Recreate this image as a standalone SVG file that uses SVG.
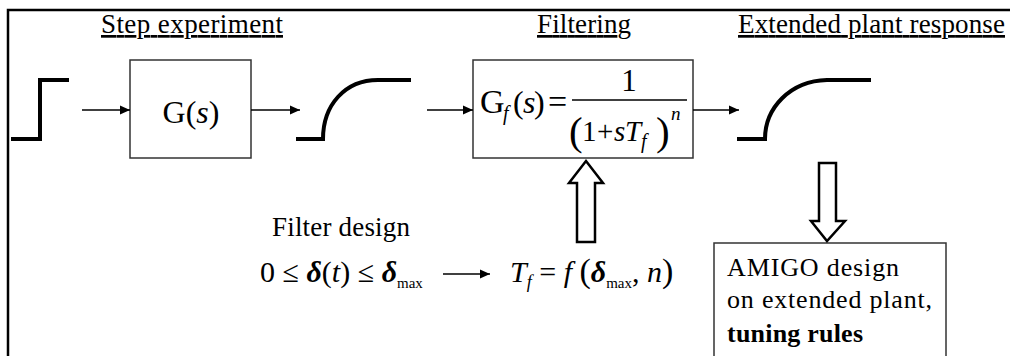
<svg xmlns="http://www.w3.org/2000/svg" width="1010" height="356" viewBox="0 0 1010 356" font-family="Liberation Serif, serif">
<style>
text{fill:#000}
.h{text-decoration:underline}
.i{font-style:italic}
.b{font-weight:bold}
.sig{fill:none;stroke:#000;stroke-width:4}
.box{fill:#fff;stroke:#333;stroke-width:1.5}
.ln{stroke:#000;stroke-width:1.5;fill:none}
.hol{fill:#fff;stroke:#000;stroke-width:2.5;stroke-linejoin:miter}
</style>
<defs>
<marker id="ah" markerWidth="10" markerHeight="10" refX="10" refY="5" orient="auto" markerUnits="userSpaceOnUse">
<path d="M0,0.5 L10,5 L0,9.5 Z" fill="#000"/>
</marker>
</defs>
<rect width="1010" height="356" fill="#fff"/>
<g id="frame">
<path d="M8,356 V10 H1010" fill="none" stroke="#000" stroke-width="2.5"/>
</g>
<g id="headers">
<text class="h" font-family="Liberation Serif, serif" font-size="27" x="101" y="33" textLength="182">Step experiment</text>
<text class="h" font-family="Liberation Serif, serif" font-size="27" x="537" y="33" textLength="94">Filtering</text>
<text class="h" font-family="Liberation Serif, serif" font-size="27" x="738" y="33" textLength="267">Extended plant response</text>
</g>
<g id="step">
<path class="sig" d="M11,139 H40 V80 H69"/>
</g>
<g id="G">
<rect class="box" x="130" y="60" width="121" height="98"/>
<text font-family="Liberation Serif, serif" x="191" y="123" text-anchor="middle" font-size="32">G(<tspan class="i">s</tspan>)</text>
</g>
<g id="resp1">
<path class="sig" d="M296,139 H323 C323,105 345,80 378,80 H411"/>
</g>
<g id="Gf">
<rect class="box" x="473" y="60" width="220" height="98"/>
<text font-family="Liberation Serif, serif" x="480" y="113" font-size="34">G</text>
<text font-family="Liberation Serif, serif" class="i" x="503" y="120" font-size="20">f</text>
<text font-family="Liberation Serif, serif" x="513" y="113" font-size="32">(</text>
<text font-family="Liberation Serif, serif" class="i" x="523" y="113" font-size="32">s</text>
<text font-family="Liberation Serif, serif" x="534" y="113" font-size="32">)</text>
<text font-family="Liberation Serif, serif" x="548" y="113" font-size="34">=</text>
<line x1="572" y1="100" x2="687" y2="100" stroke="#000" stroke-width="1.5"/>
<text font-family="Liberation Serif, serif" x="629" y="91" font-size="31" text-anchor="middle">1</text>
<text font-family="Liberation Serif, serif" x="569" y="145" font-size="41">(</text>
<text font-family="Liberation Serif, serif" x="582" y="141" font-size="29">1</text>
<text font-family="Liberation Serif, serif" x="597" y="141" font-size="29">+</text>
<text font-family="Liberation Serif, serif" class="i" x="614" y="141" font-size="29">s</text>
<text font-family="Liberation Serif, serif" class="i" x="625" y="141" font-size="29">T</text>
<text font-family="Liberation Serif, serif" class="i" x="641" y="148" font-size="20">f</text>
<text font-family="Liberation Serif, serif" x="656" y="145" font-size="41">)</text>
<text font-family="Liberation Serif, serif" class="i" x="671" y="120" font-size="19">n</text>
</g>
<g id="resp2">
<path class="sig" d="M737,139 H765 C765,108 790,81 827,80 H871"/>
</g>
<g id="filterdesign">
<text font-family="Liberation Serif, serif" font-size="27" x="272" y="236" textLength="138">Filter design</text>
<text font-family="Liberation Serif, serif" x="260" y="282" font-size="30">0 ≤ <tspan class="i b">δ</tspan>(<tspan class="i">t</tspan>) ≤ <tspan class="i b">δ</tspan><tspan font-size="15" dy="6">max</tspan></text>
</g>
<g id="Tf">
<text font-family="Liberation Serif, serif" x="510" y="282" font-size="30"><tspan class="i">T</tspan><tspan class="i" font-size="18" dy="6">f</tspan><tspan dy="-6"> = </tspan><tspan class="i">f</tspan> <tspan font-size="34">(</tspan><tspan class="i b">δ</tspan><tspan font-size="15" dy="6">max</tspan><tspan dy="-6">, </tspan><tspan class="i">n</tspan><tspan font-size="34">)</tspan></text>
</g>
<g id="amigo">
<rect class="box" x="714" y="243" width="232" height="120"/>
<text font-family="Liberation Serif, serif" font-size="26" x="727" y="276" textLength="172">AMIGO design</text>
<text font-family="Liberation Serif, serif" font-size="26" x="727" y="308" textLength="205">on extended plant,</text>
<text font-family="Liberation Serif, serif" font-size="26" x="727" y="342" class="b" textLength="136">tuning rules</text>
</g>
<g id="connectors">
<line class="ln" x1="82" y1="110" x2="130" y2="110" marker-end="url(#ah)"/>
<line class="ln" x1="251" y1="110" x2="300" y2="110" marker-end="url(#ah)"/>
<line class="ln" x1="427" y1="110" x2="473" y2="110" marker-end="url(#ah)"/>
<line class="ln" x1="693" y1="110" x2="739" y2="110" marker-end="url(#ah)"/>
<line class="ln" x1="443" y1="274" x2="490" y2="274" marker-end="url(#ah)"/>
<polygon class="hol" points="586,161 603,183 595,183 595,242 577,242 577,183 569,183"/>
<polygon class="hol" points="819,163 836,163 836,221 845,221 827,241 811,221 819,221"/>
</g>
</svg>
